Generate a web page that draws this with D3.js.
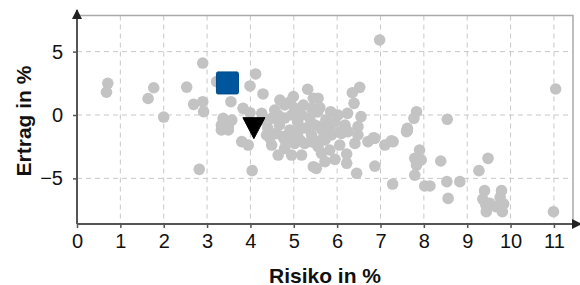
<!DOCTYPE html>
<html lang="de">
<head>
<meta charset="utf-8">
<title>Risiko / Ertrag</title>
<script src="https://d3js.org/d3.v7.min.js"></script>
<style>
body { margin: 0; background: #fff; }
svg { font-family: "Liberation Sans", Arial, sans-serif; }
</style>
</head>
<body>
<script>
// Daten: Risiko (x, %) und Ertrag (y, %)
var riskValues = [0.71,0.68,1.77,1.64,2.0,2.53,2.90,2.69,2.90,2.92,2.82,3.22,4.12,3.99,4.29,3.55,3.83,3.99,4.26,
  3.37,3.57,3.33,3.49,4.49,4.79,4.99,5.32,5.22,5.41,5.45,4.64,4.95,
  6.52,6.35,6.39,6.24,6.55,5.56,5.60,5.85,5.83,5.60,6.18,6.48,7.83,7.77,7.62,6.98,11.04,
  8.54,7.62,7.25,7.10,6.84,8.39,9.48,9.27,8.53,8.83,8.56,9.40,9.36,9.43,9.44,9.79,9.76,9.84,9.81,9.52,9.66,10.99,8.14,
  7.90,7.79,7.83,7.94,7.79,8.02,7.28,6.87,7.29,7.60,
  6.45,6.22,6.22,5.95,5.64,5.52,5.72,6.41,6.71,6.87,6.25,6.48,5.87,6.10,5.64,5.56,
  4.04,3.80,3.95,3.49,3.33,4.37,4.49,4.64,4.79,4.95,5.18,5.02,5.25,4.75,4.60,5.41,5.45,4.95,5.10,
  4.26,4.40,4.56,4.67,4.79,4.91,5.02,5.09,5.19,5.28,5.37,5.49,5.55,5.65,5.74,5.83,5.95,6.06,6.02,6.18,
  5.14,4.79,4.45,5.42,5.72,6.06,5.83,4.68,4.91];
var returnValues = [2.5,1.8,2.15,1.3,-0.16,2.2,4.1,0.84,1.05,0.26,-4.29,2.63,3.24,2.29,1.66,1.05,0.53,0.18,0.13,
  -0.26,-0.4,-0.79,-0.92,-0.26,0.79,1.45,2.03,0.79,0.53,1.32,0.0,0.0,
  2.18,1.76,0.92,0.13,-0.13,1.32,0.58,0.26,-0.79,-0.92,-1.05,-0.92,0.26,-0.26,-1.05,5.92,2.05,
  -0.34,-1.24,-2.03,-2.37,-1.79,-3.63,-3.42,-4.39,-5.26,-5.26,-6.58,-5.97,-6.63,-7.1,-7.63,-5.97,-6.5,-7.02,-7.63,-6.97,-7.24,-7.63,-5.6,
  -2.76,-3.42,-3.95,-3.55,-4.74,-5.6,-5.45,-4.03,-2.1,-1.31,
  -4.6,-3.81,-3.08,-3.5,-3.02,-4.21,-3.68,-2.24,-2.1,-1.84,-1.31,-1.58,-1.58,-1.45,-1.97,-2.5,
  -4.39,-2.1,-2.37,-1.18,-1.18,-1.58,-2.37,-3.16,-2.63,-3.16,-3.16,-2.24,-2.24,-1.71,-1.45,-1.58,-4.08,-1.58,-1.31,
  -0.39,-1.03,0.39,-0.79,-0.24,-1.18,0.55,-0.55,0.0,-1.03,-0.24,-0.79,0.24,-1.18,-0.39,-1.03,-0.55,-1.34,0.0,-0.79,
  -1.97,-1.97,-1.82,-2.13,-1.97,-2.37,-2.76,1.18,1.03];
// hervorgehobene Punkte
var squarePoint = [3.47, 2.53];
var trianglePoint = [4.08, -1.0];
var xTicks = [0,1,2,3,4,5,6,7,8,9,10,11];
var yTicks = [-5,0,5];

var W = 580, H = 285;
var svg = d3.select("body").append("svg").attr("width", W).attr("height", H);

var x = d3.scaleLinear().domain([0, 11.44]).range([77, 573]);
var y = d3.scaleLinear().domain([-8.6, 7.85]).range([224, 15.5]);

// Gitter
svg.append("g").selectAll("line").data(xTicks.slice(1)).enter().append("line")
  .attr("x1", function(d) { return x(d); }).attr("x2", function(d) { return x(d); })
  .attr("y1", y.range()[1]).attr("y2", y.range()[0])
  .attr("stroke", "#c8c8c8").attr("stroke-width", 1).attr("stroke-dasharray", "5,4");
svg.append("g").selectAll("line").data(yTicks).enter().append("line")
  .attr("x1", x.range()[0]).attr("x2", x.range()[1])
  .attr("y1", function(d) { return y(d); }).attr("y2", function(d) { return y(d); })
  .attr("stroke", "#c8c8c8").attr("stroke-width", 1).attr("stroke-dasharray", "5,4");

// Rahmen oben / rechts
svg.append("path")
  .attr("d", "M" + x.range()[0] + "," + y.range()[1] + "H" + x.range()[1] + "V" + y.range()[0])
  .attr("fill", "none").attr("stroke", "#aaa").attr("stroke-width", 1.5);

// Punkte
var pts = d3.zip(riskValues, returnValues);
svg.append("g").selectAll("circle").data(pts).enter().append("circle")
  .attr("cx", function(d) { return x(d[0]); })
  .attr("cy", function(d) { return y(d[1]); })
  .attr("r", 5.8)
  .attr("fill", "#c3c3c3");

// Achsen
var xAxis = svg.append("g").attr("transform", "translate(0," + y.range()[0] + ")")
  .call(d3.axisBottom(x).tickValues(xTicks).tickSize(4).tickSizeOuter(0).tickPadding(6));
var yAxis = svg.append("g").attr("transform", "translate(" + x.range()[0] + ",0)")
  .call(d3.axisLeft(y).tickValues(yTicks).tickSize(4).tickSizeOuter(0).tickPadding(10));
[xAxis, yAxis].forEach(function(a) {
  a.select(".domain").attr("stroke", "#555").attr("stroke-width", 2);
  a.selectAll(".tick line").attr("stroke", "#555").attr("stroke-width", 1.5);
  a.selectAll(".tick text").attr("fill", "#111").style("font-size", "20px")
   .style("font-family", "'Liberation Sans', Arial, sans-serif");
});
yAxis.select(".domain").attr("d", "M0," + y.range()[0] + "V10");
xAxis.select(".domain").attr("d", "M" + x.range()[0] + ",0H578");

// Pfeile
svg.append("path")
  .attr("d", "M" + (x.range()[0] - 5) + ",19L" + x.range()[0] + ",9L" + (x.range()[0] + 5) + ",19Z")
  .attr("fill", "#222");
svg.append("path")
  .attr("d", "M572," + (y.range()[0] - 5) + "L582," + y.range()[0] + "L572," + (y.range()[0] + 5) + "Z")
  .attr("fill", "#222");

// Quadrat
svg.append("rect")
  .attr("x", x(squarePoint[0]) - 11).attr("y", y(squarePoint[1]) - 11)
  .attr("width", 22).attr("height", 22).attr("rx", 1.5)
  .attr("fill", "#00569c").attr("stroke", "#004a88").attr("stroke-width", 1);

// Dreieck
var tx = x(trianglePoint[0]), ty = y(trianglePoint[1]);
svg.append("path")
  .attr("d", "M" + (tx - 11) + "," + (ty - 10) + "L" + (tx + 11) + "," + (ty - 10) + "L" + tx + "," + (ty + 11) + "Z")
  .attr("fill", "#000").attr("stroke", "#000").attr("stroke-linejoin", "round").attr("stroke-width", 1);

// Achsentitel
svg.append("text").attr("x", 325).attr("y", 282.5).attr("text-anchor", "middle")
  .style("font-size", "21px").style("font-weight", "bold").attr("fill", "#111")
  .text("Risiko in %");
svg.append("text").attr("transform", "translate(31,121) rotate(-90)").attr("text-anchor", "middle")
  .style("font-size", "21px").style("font-weight", "bold").attr("fill", "#111")
  .text("Ertrag in %");
</script>
</body>
</html>
